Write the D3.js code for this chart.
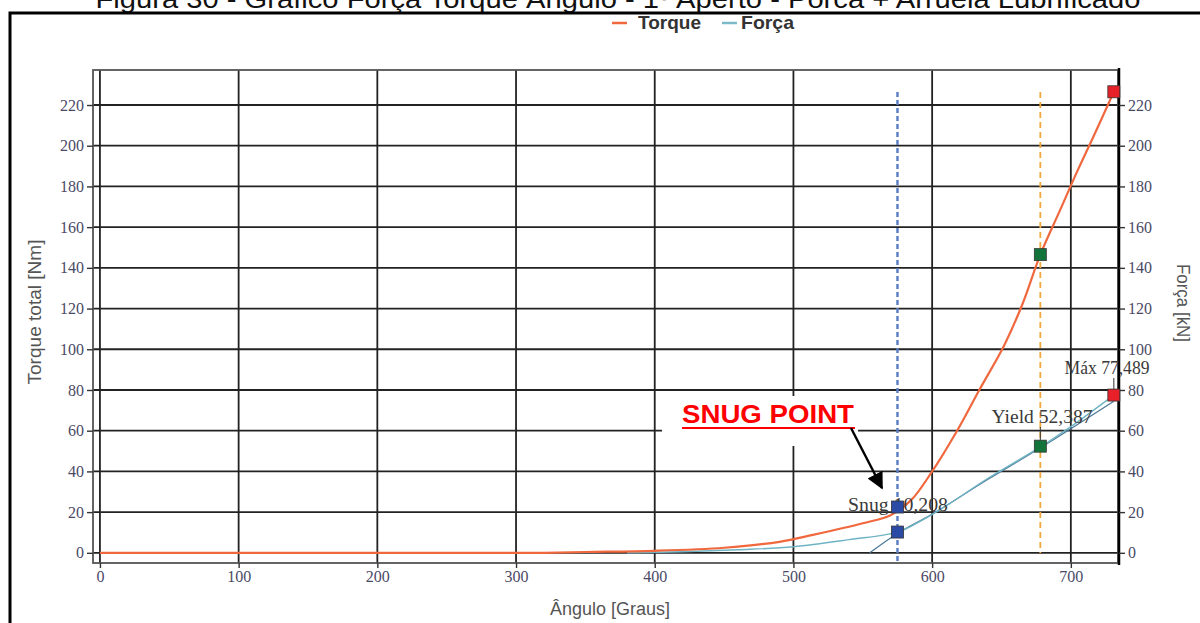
<!DOCTYPE html>
<html>
<head>
<meta charset="utf-8">
<script src="https://cdn.jsdelivr.net/npm/d3@7"></script>
<style>
  body { margin: 0; background: #fff; }
  svg { display: block; }
</style>
</head>
<body>
<svg width="1200" height="623"></svg>
<script>
// dados
const xTicks = [0, 100, 200, 300, 400, 500, 600, 700];
const yTicks = [0, 20, 40, 60, 80, 100, 120, 140, 160, 180, 200, 220];

// Torque [Nm] x Ângulo
const torqueAngle = [0, 100, 200, 300, 320, 350, 400, 450, 490, 514, 550, 570, 585, 600, 618, 634, 652, 665, 678, 692, 705, 718, 731];
const torqueVal = [0, 0, 0, 0, 0, 0.4, 1, 2.5, 5.4, 8.8, 14.5, 18.5, 26, 40, 60, 80, 102, 122, 146.5, 168, 188, 207, 226.5];

// Força [kN] x Ângulo
const forcaAngle = [380, 420, 460, 500, 540, 575, 590, 610, 640, 679, 700, 731];
const forcaVal = [0, 0.5, 1.5, 3, 6.5, 10.2, 15, 23, 36.5, 52.4, 62, 77.5];

// reta de referência da força
const fitAngle = [555, 575, 600, 640, 679, 731];
const fitVal = [0, 9.5, 19, 36, 52, 74.5];

// pontos marcados
const markAngle = [575, 678, 731];
const markTorque = [22.5, 146.5, 226.5];
const markForca = [10.2, 52.4, 77.5];
const markColor = ['#2b4aa6', '#12743a', '#e8202a'];
const markLabel = ['Snug 10,208', 'Yield 52,387', 'Máx 77,489'];

const svg = d3.select('svg');

const x = d3.scaleLinear().domain([-5, 734]).range([93, 1118]);
const y = d3.scaleLinear().domain([-5, 237.2]).range([563, 70]);

// título (cortado no topo)
svg.append('text')
  .attr('x', 618).attr('y', 8)
  .attr('text-anchor', 'middle')
  .attr('font-family', 'Liberation Sans, Arial, sans-serif')
  .attr('font-size', 26)
  .attr('textLength', 1045)
  .attr('lengthAdjust', 'spacingAndGlyphs')
  .attr('fill', '#111')
  .text('Figura 30 - Gráfico Força Torque Ângulo - 1º Aperto - Porca + Arruela Lubrificado');

// moldura externa
svg.append('path')
  .attr('d', 'M10,640 L10,13 L1210,13')
  .attr('fill', 'none')
  .attr('stroke', '#000')
  .attr('stroke-width', 3);

// legenda
const legend = svg.append('g')
  .attr('font-family', 'Liberation Sans, Arial, sans-serif')
  .attr('font-weight', 'bold')
  .attr('font-size', 19)
  .attr('fill', '#333');
[['Torque', '#f0683e', 612, 638, 63], ['Força', '#7bbac8', 722, 741, 53]].forEach(([name, color, lx, tx, len]) => {
  legend.append('line')
    .attr('x1', lx).attr('x2', lx + 15)
    .attr('y1', 23).attr('y2', 23)
    .attr('stroke', color).attr('stroke-width', 2.5);
  legend.append('text')
    .attr('x', tx).attr('y', 29)
    .attr('textLength', len)
    .attr('lengthAdjust', 'spacingAndGlyphs')
    .text(name);
});

// grade
const grid = svg.append('g').attr('stroke', '#222').attr('stroke-width', 1.8);
grid.selectAll('line.h')
  .data(yTicks)
  .join('line')
  .attr('class', 'h')
  .attr('x1', 93).attr('x2', 1118)
  .attr('y1', (d) => y(d)).attr('y2', (d) => y(d));
grid.selectAll('line.v')
  .data(xTicks)
  .join('line')
  .attr('class', 'v')
  .attr('x1', (d) => x(d)).attr('x2', (d) => x(d))
  .attr('y1', 70).attr('y2', 563);

// moldura da área do gráfico
svg.append('rect')
  .attr('x', 93).attr('y', 70)
  .attr('width', 1118 - 93).attr('height', 563 - 70)
  .attr('fill', 'none')
  .attr('stroke', '#555')
  .attr('stroke-width', 1.8);
svg.append('line')
  .attr('x1', 1119).attr('x2', 1119)
  .attr('y1', 68).attr('y2', 565)
  .attr('stroke', '#000').attr('stroke-width', 2.5);

// eixos
function styleAxis(g) {
  g.select('.domain').remove();
  g.selectAll('.tick line').attr('stroke', '#333').attr('stroke-width', 1.4);
  g.selectAll('.tick text')
    .attr('font-family', 'Liberation Serif, Times New Roman, serif')
    .attr('font-size', 16)
    .attr('fill', '#4a4a66');
}

svg.append('g')
  .attr('transform', 'translate(93,0)')
  .call(d3.axisLeft(y).tickValues(yTicks).tickSize(6).tickPadding(3))
  .call(styleAxis);

svg.append('g')
  .attr('transform', 'translate(1119,0)')
  .call(d3.axisRight(y).tickValues(yTicks).tickSize(6).tickPadding(3))
  .call(styleAxis);

svg.append('g')
  .attr('transform', 'translate(0,563)')
  .call(d3.axisBottom(x).tickValues(xTicks).tickSize(5).tickPadding(3))
  .call(styleAxis);

// títulos dos eixos
const axisFont = 'Liberation Sans, Arial, sans-serif';
svg.append('text')
  .attr('transform', 'translate(41,312) rotate(-90)')
  .attr('text-anchor', 'middle')
  .attr('font-family', axisFont).attr('font-size', 18).attr('fill', '#555')
  .attr('textLength', 145).attr('lengthAdjust', 'spacingAndGlyphs')
  .text('Torque total [Nm]');
svg.append('text')
  .attr('transform', 'translate(1177,303) rotate(90)')
  .attr('text-anchor', 'middle')
  .attr('font-family', axisFont).attr('font-size', 18).attr('fill', '#555')
  .attr('textLength', 78).attr('lengthAdjust', 'spacingAndGlyphs')
  .text('Força [kN]');
svg.append('text')
  .attr('x', 610).attr('y', 615)
  .attr('text-anchor', 'middle')
  .attr('font-family', axisFont).attr('font-size', 18).attr('fill', '#555')
  .attr('textLength', 120).attr('lengthAdjust', 'spacingAndGlyphs')
  .text('Ângulo [Graus]');

// linhas verticais tracejadas (snug / yield)
svg.append('line')
  .attr('x1', x(markAngle[0])).attr('x2', x(markAngle[0]))
  .attr('y1', 92).attr('y2', 563)
  .attr('stroke', '#5a7cc4').attr('stroke-width', 2.4)
  .attr('stroke-dasharray', '5,3');
svg.append('line')
  .attr('x1', x(markAngle[1])).attr('x2', x(markAngle[1]))
  .attr('y1', 92).attr('y2', 553)
  .attr('stroke', '#f2a83a').attr('stroke-width', 1.8)
  .attr('stroke-dasharray', '6,4');

// curvas
const lineOf = (xs, ys) => d3.line()
  .x((d, i) => x(xs[i]))
  .y((d) => y(d))
  .curve(d3.curveCatmullRom)(ys);

svg.append('path')
  .attr('d', lineOf(fitAngle, fitVal))
  .attr('fill', 'none').attr('stroke', '#4d7896').attr('stroke-width', 1.3);
svg.append('path')
  .attr('d', lineOf(forcaAngle, forcaVal))
  .attr('fill', 'none').attr('stroke', '#6fb4c4').attr('stroke-width', 1.4);
svg.append('path')
  .attr('d', lineOf(torqueAngle, torqueVal))
  .attr('fill', 'none').attr('stroke', '#f0683e').attr('stroke-width', 2.2);

// caixa de texto SNUG POINT (fundo branco sobre a grade)
svg.append('rect')
  .attr('x', 662).attr('y', 396)
  .attr('width', 196).attr('height', 50)
  .attr('fill', '#fff');
svg.append('text')
  .attr('x', 682).attr('y', 423)
  .attr('font-family', 'Liberation Sans, Arial, sans-serif')
  .attr('font-weight', 'bold').attr('font-size', 25)
  .attr('textLength', 172).attr('lengthAdjust', 'spacingAndGlyphs')
  .attr('fill', '#ff0000')
  .text('SNUG POINT');
svg.append('line')
  .attr('x1', 682).attr('x2', 855)
  .attr('y1', 428).attr('y2', 428)
  .attr('stroke', '#ff0000').attr('stroke-width', 2);

// seta
svg.append('defs').append('marker')
  .attr('id', 'arrow')
  .attr('viewBox', '0 0 10 10')
  .attr('refX', 9).attr('refY', 5)
  .attr('markerWidth', 7).attr('markerHeight', 7)
  .attr('orient', 'auto')
  .append('path')
  .attr('d', 'M0,0 L10,5 L0,10 Z')
  .attr('fill', '#000');
svg.append('line')
  .attr('x1', 851).attr('y1', 428)
  .attr('x2', 882).attr('y2', 488)
  .attr('stroke', '#000').attr('stroke-width', 2.4)
  .attr('marker-end', 'url(#arrow)');

// rótulos dos pontos
const labelFont = 'Liberation Serif, Times New Roman, serif';
const labelPos = [[898, 511, 100], [1042, 423, 101], [1107, 374, 85]];
markLabel.forEach((t, i) => {
  svg.append('text')
    .attr('x', labelPos[i][0]).attr('y', labelPos[i][1])
    .attr('text-anchor', 'middle')
    .attr('font-family', labelFont).attr('font-size', 18)
    .attr('textLength', labelPos[i][2]).attr('lengthAdjust', 'spacingAndGlyphs')
    .attr('fill', '#3a3a3a')
    .text(t);
});
svg.append('line')
  .attr('x1', x(markAngle[1])).attr('x2', x(markAngle[1]))
  .attr('y1', 427).attr('y2', y(markForca[1]))
  .attr('stroke', '#333').attr('stroke-width', 1);
svg.append('line')
  .attr('x1', x(markAngle[2])).attr('x2', x(markAngle[2]))
  .attr('y1', 378).attr('y2', y(markForca[2]))
  .attr('stroke', '#333').attr('stroke-width', 1);

// marcadores
const marks = svg.append('g');
[markTorque, markForca].forEach((vals) => {
  marks.selectAll(null)
    .data(vals)
    .join('rect')
    .attr('x', (d, i) => x(markAngle[i]) - 6)
    .attr('y', (d) => y(d) - 6)
    .attr('width', 12).attr('height', 12)
    .attr('fill', (d, i) => markColor[i])
    .attr('stroke', '#333').attr('stroke-width', 0.8);
});
</script>
</body>
</html>
